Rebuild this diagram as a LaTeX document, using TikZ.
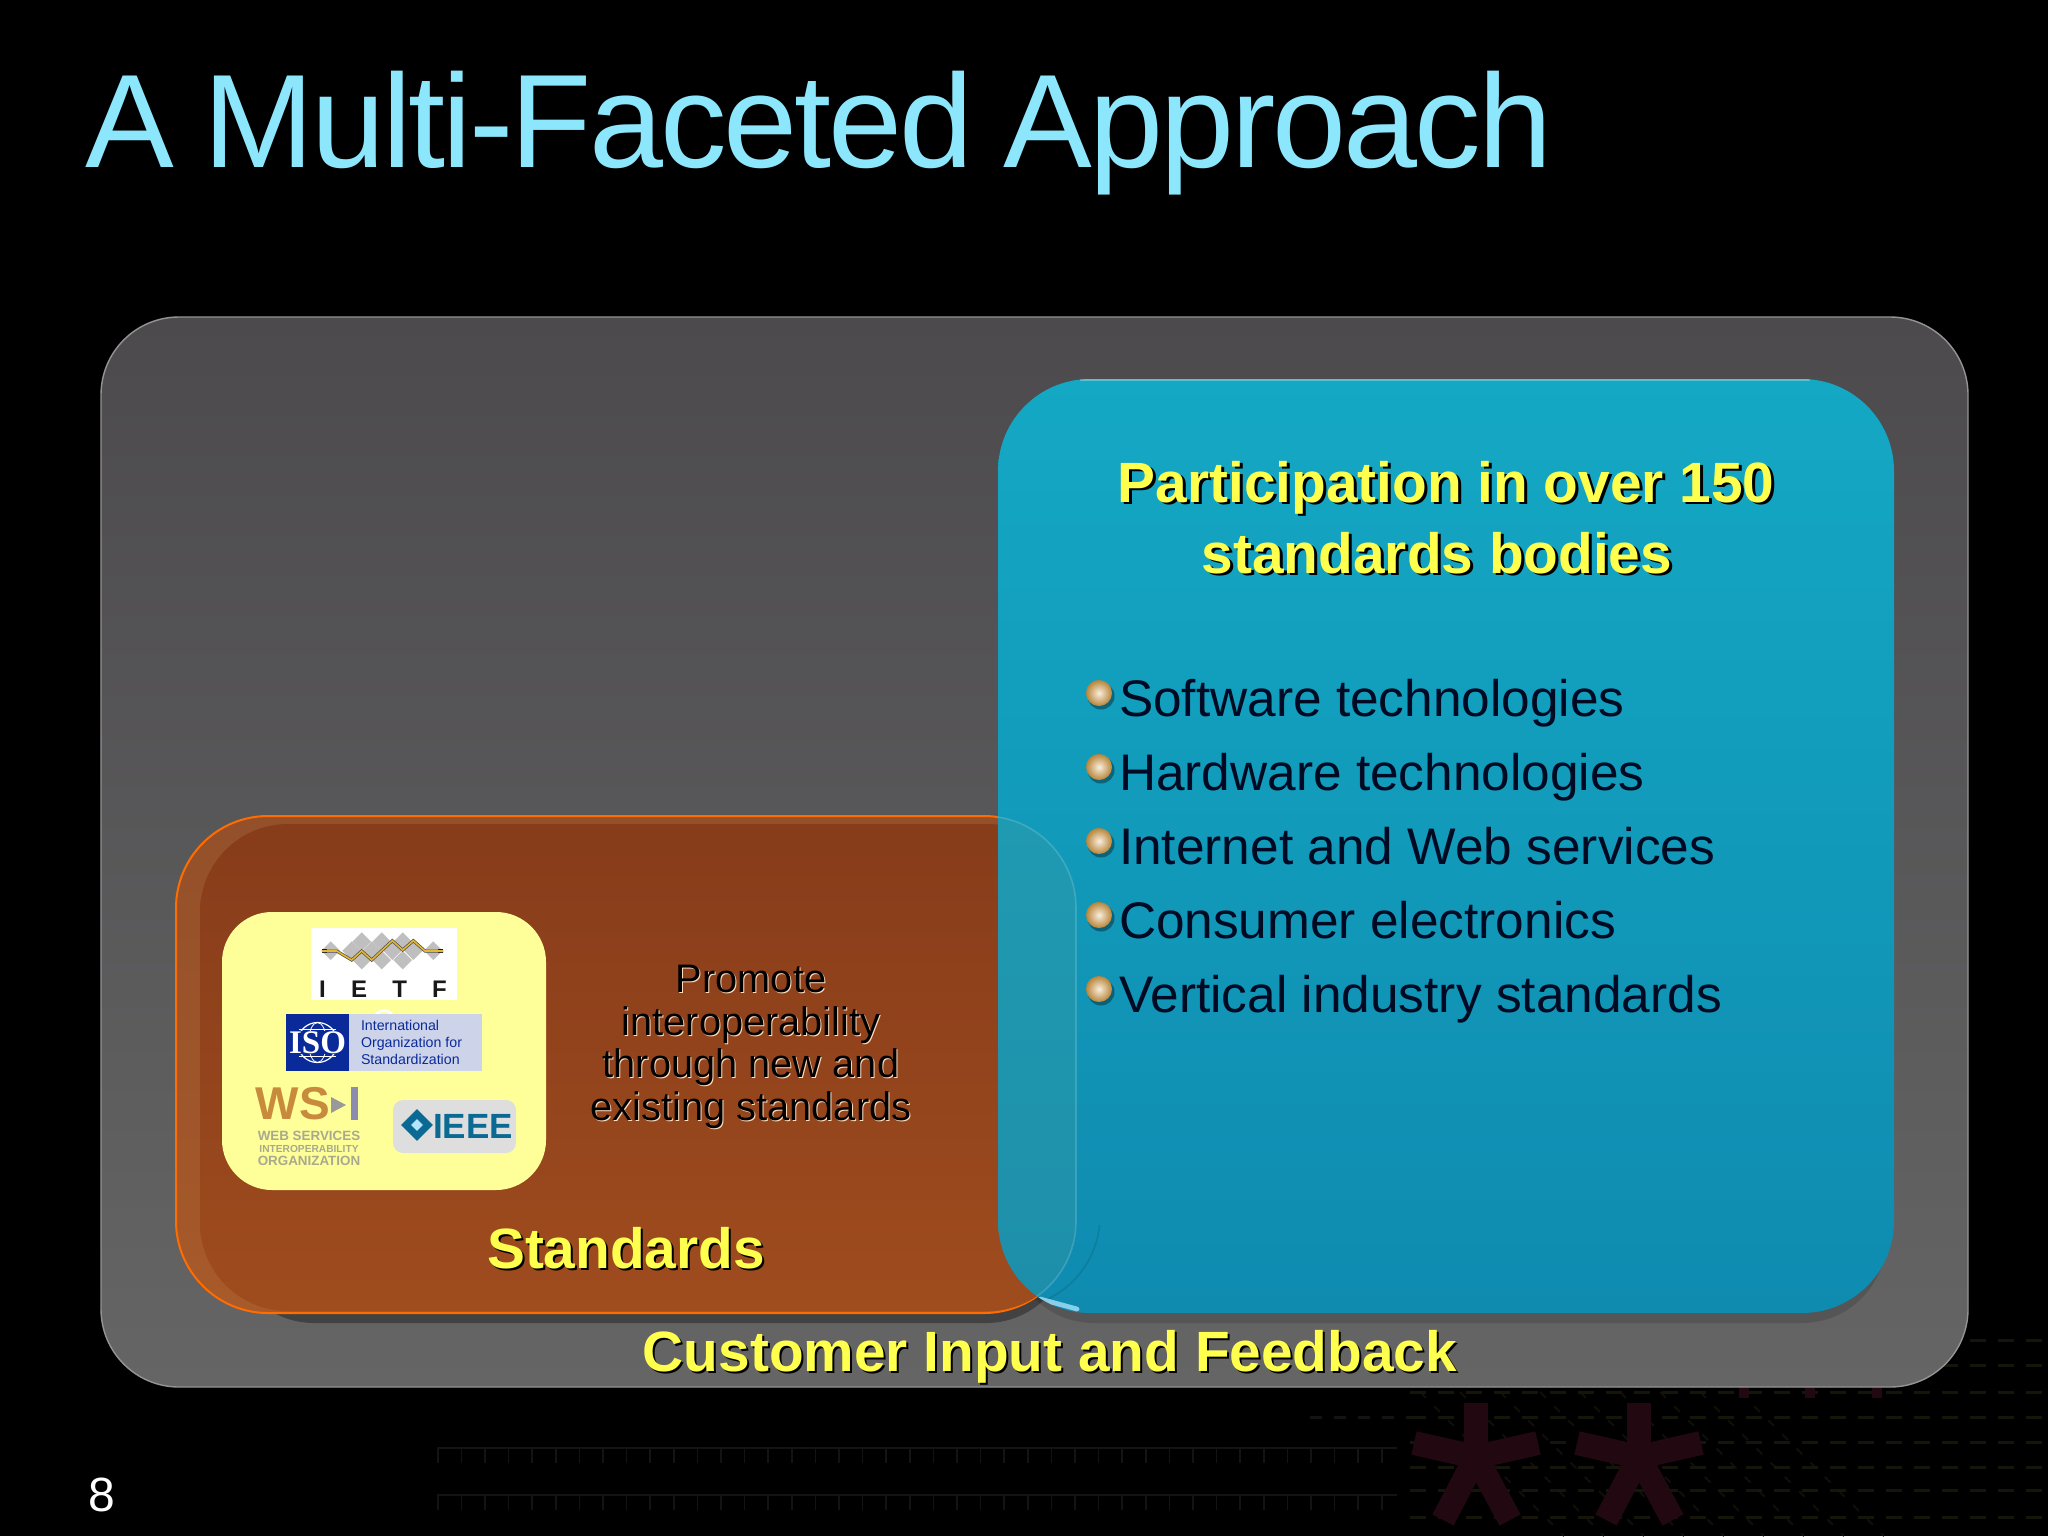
\documentclass[tikz,border=0pt]{standalone}
\usepackage{fontspec}
\setmainfont{Liberation Sans}
\newfontfamily\serifb{Liberation Serif}
\newfontfamily\titlefont[LetterSpace=-2.2,WordSpace=0.87]{Liberation Sans}
\usetikzlibrary{shapes.geometric}
\definecolor{hdr}{HTML}{FFFF4D}
\definecolor{ink}{HTML}{000A22}
\definecolor{title}{HTML}{8CE6FC}
\definecolor{starred}{HTML}{220810}
\definecolor{dimY}{HTML}{15150A}
\definecolor{dimD}{HTML}{101008}
\definecolor{dimG}{HTML}{131313}
\definecolor{panelT}{HTML}{4C4A4D}
\definecolor{panelB}{HTML}{656565}
\definecolor{orT}{HTML}{873C1A}
\definecolor{orB}{HTML}{9F4C1E}
\definecolor{orLT}{HTML}{93502A}
\definecolor{orLB}{HTML}{A85A2A}
\definecolor{blT}{HTML}{14A8C4}
\definecolor{blB}{HTML}{0F8BB0}
\definecolor{ovl}{HTML}{4A9A98}
\definecolor{ballM}{HTML}{E0AE60}
\definecolor{ballO}{HTML}{B8853A}
\definecolor{logoY}{HTML}{FFFF99}
\definecolor{isoB}{HTML}{0A2A9A}
\definecolor{isoL}{HTML}{CDD4EA}
\definecolor{wsO}{HTML}{C88B3E}
\definecolor{wsG}{HTML}{A9A98E}
\definecolor{teal}{HTML}{0B6A94}
\definecolor{gold}{HTML}{E6B830}
\newcommand{\fs}[1]{\fontsize{#1}{#1}\selectfont}
\tikzset{
  x=0.5pt,y=-0.5pt,
  lbl/.style={inner sep=0pt,outer sep=0pt,align=center},
  hshadow/.style={lbl,text=black,font=\fs{28.4}\bfseries},
  htext/.style={lbl,text=hdr,font=\fs{28.4}\bfseries},
  item/.style={lbl,anchor=base west,text=ink,font=\fs{25.7}},
  dia/.style={diamond,fill=#1,inner sep=0pt,minimum width=9.5pt,minimum height=9.5pt},
}
\newcommand{\ball}[2]{%
  \fill[black,opacity=.35] (#1+2,#2+3) circle[radius=13.5];
  \shade[inner color=white!80!ballM,middle color=ballM,outer color=ballO] (#1,#2) circle[radius=13];
}
\newcommand{\bgstar}[2]{%
  \foreach \dx/\dy in {0/-54,-62/-14,62/-14,-33/63,34/63}{\draw[line width=12pt,color=starred] (#1,#2) -- ++(\dx,\dy);}
}
\begin{document}
\begin{tikzpicture}
\useasboundingbox (0,0) rectangle (2048,1536);
\fill[black] (0,0) rectangle (2048,1536);
% faint background decoration
\foreach \yy in {1448,1495}{
  \draw[color=dimG,line width=.8pt] (437,\yy) -- (1397,\yy);
  \draw[color=dimG,line width=7pt,dash pattern=on .8pt off 11pt] (437,\yy+8) -- (1397,\yy+8);
}
\foreach \xx in {1420,1460,...,1740}{\draw[color=dimD,line width=1pt,dash pattern=on 4pt off 6pt] (\xx,1392) -- (\xx+144,1536);}
\foreach \yy in {1340,1365,1392,1417,1442,1467,1490,1517}{\draw[color=dimY,line width=1.5pt,dash pattern=on 8pt off 6pt] (1410,\yy) -- (2048,\yy);}
\draw[color=dimG,line width=1.5pt,dash pattern=on 6pt off 6pt] (1310,1417) -- (1410,1417);
\bgstar{1476}{1457}
\bgstar{1639}{1457}
\foreach \xx in {1744,1810,1877}{\draw[color=starred,line width=5pt] (\xx,1386) -- (\xx,1398);}
% outer panel
\shade[top color=panelT,bottom color=panelB,draw=black!42!white,line width=.7pt,rounded corners=39pt] (101,317) rectangle (1968,1387);
% shadows
\fill[black!74!white,rounded corners=42pt] (230,1000) rectangle (1070,1323);
\fill[black,opacity=.14,rounded corners=42pt] (1010,1000) rectangle (1886,1323);
% orange panel
\shade[top color=orLT,bottom color=orLB,draw=orange!85!red,line width=1pt,rounded corners=46pt] (176,816) rectangle (1076,1313);
\path[rounded corners=44pt,top color=orT,bottom color=orB] (200,824) rectangle (1076,1311);
% blue panel
\shade[top color=blT,bottom color=blB,rounded corners=46pt] (998,379) rectangle (1894,1313);
\begin{scope}
  \clip[rounded corners=46pt] (998,379) rectangle (1894,1313);
  \fill[ovl,opacity=.26,rounded corners=46pt] (900,816) rectangle (1076,1313);
  \draw[white,opacity=.16,line width=.8pt,rounded corners=46pt] (900,816) rectangle (1076,1313);
  \begin{scope}
    \clip (1040,1225) rectangle (1120,1320);
    \draw[black,opacity=.10,line width=.8pt,rounded corners=46pt] (950,830) rectangle (1100,1308);
  \end{scope}
  \draw[white,opacity=.30,line width=1pt] (1080,379.5) -- (1810,379.5);
  \draw[cyan!30!white,line width=2.4pt,opacity=.75,line cap=round] (1040,1299) -- (1077,1309);
\end{scope}
% yellow logo panel
\fill[logoY,rounded corners=25pt] (222,912) rectangle (546,1190);
% IETF
\node[fill=white,inner sep=0pt,minimum width=73pt,minimum height=36pt] (ietfbox) at (384,964) {};
\foreach \px/\py in {512/482,575/482,605/455,665/455,728/455,635/482,697/482,760/482,820/482,605/510,665/510,728/510}{
  \node[dia=black!25!white] at ({160+\px/3},{790+\py/3}) {};
}
\coordinate (ia) at (322,951);
\coordinate (ib) at (443,951);
\draw[black,line width=2.2pt] (ia) -- ++(5,0);
\draw[black,line width=2.2pt] (ib) -- ++(-5,0);
\foreach \cc/\ww in {black!70!white/1.5pt,gold/.8pt}{
\draw[color=\cc,line width=\ww] (ia) -- ({160+530/3},951) -- ({160+575/3},{790+510/3}) -- ({160+605/3},951) -- ({160+635/3},{790+510/3}) -- ({160+697/3},{790+452/3}) -- ({160+728/3},{790+480/3}) -- ({160+760/3},{790+452/3}) -- ({160+795/3},951) -- (ib);
}
\node[lbl,text=black!90!white,font=\fs{12}\bfseries] (ietf) at (383,989) {I\hspace{12.6pt}E\hspace{12.6pt}T\hspace{12.6pt}F};
\draw[white,line width=1.4pt] (384,1020) circle[radius=9.5];
% ISO
\fill[isoL] (349,1014) rectangle (482,1071);
\fill[isoB] (286,1014) rectangle (349,1071);
\draw[white,line width=.6pt] (317.5,1042.5) circle[radius=20];
\draw[white,line width=.4pt] (317.5,1042.5) ellipse[x radius=9,y radius=20];
\draw[white,line width=.4pt] (299,1029) -- (336,1029) (299,1056) -- (336,1056);
\node[lbl,fill=isoB,text=white,font=\serifb\bfseries\fs{16.5}] (iso) at (317.5,1042.5) {ISO};
\node[lbl,anchor=west,text=isoB,align=left,font=\fs{7.1}] (isotext) at (361,1042.5) {International\\[1.4pt]Organization for\\[1.4pt]Standardization};
% WS-I
\node[lbl,text=wsO,font=\fs{23}\bfseries] (ws) at (293,1104) {WS};
\fill[black!40!white] (331,1097) -- (346,1105) -- (331,1113) -- cycle;
\fill[blue!30!black!45!white] (351,1087) rectangle (358,1120);
\node[lbl,text=wsG,font=\fs{6.7}\bfseries] (wsa) at (309,1136) {WEB SERVICES};
\node[lbl,text=wsG,font=\fs{5.1}\bfseries] (wsb) at (309,1149) {INTEROPERABILITY};
\node[lbl,text=wsG,font=\fs{6.7}\bfseries] (wsc) at (309,1161) {ORGANIZATION};
% IEEE
\fill[black!13!white,rounded corners=5pt] (393,1100) rectangle (516,1153);
\node[diamond,fill=teal,inner sep=0pt,minimum width=16pt,minimum height=16pt] (ieeed) at (417,1125) {};
\node[diamond,fill=white!70!cyan,inner sep=0pt,minimum width=6pt,minimum height=6pt] at (417,1125) {};
\node[lbl,text=teal,font=\fs{17.5}\bfseries] (ieee) at (473,1126) {IEEE};
% promote text
\node[lbl,text=white!75!orange,font=\fs{19.9},align=center] at (752,1048) {Promote\\[1.4pt]interoperability\\[1.4pt]through new and\\[1.4pt]existing standards};
\node[lbl,text=black,font=\fs{19.9},align=center] (promote) at (751,1047) {Promote\\[1.4pt]interoperability\\[1.4pt]through new and\\[1.4pt]existing standards};
% headers
\node[hshadow] at (1440,520) {\hspace*{9.2pt}Participation in over 150\\[7pt]standards bodies};
\node[htext] (bodies) at (1437,518) {\hspace*{9.2pt}Participation in over 150\\[7pt]standards bodies};
\node[hshadow] at (628,1250) {Standards};
\node[htext] (standards) at (626,1248) {Standards};
\node[hshadow] at (1052,1359) {Customer Input and Feedback};
\node[htext] (customer) at (1050,1357) {Customer Input and Feedback};
% bullets
\foreach \n/\by/\ty/\tx in {a/693/716/Software technologies,b/767/790/Hardware technologies,c/841/864/Internet and Web services,d/915/938/Consumer electronics,e/989/1012/Vertical industry standards}{
  \ball{1099}{\by}
  \node[item] (item\n) at (1119,\ty) {\tx};
}
% title
\node[lbl,anchor=west,text=title,font=\titlefont\fs{66.5}] (titletext) at (85,133) {A Multi-Faceted Approach};
\node[lbl,text=white,font=\fs{24}] (pagenum) at (102,1495) {8};
\end{tikzpicture}
\end{document}
